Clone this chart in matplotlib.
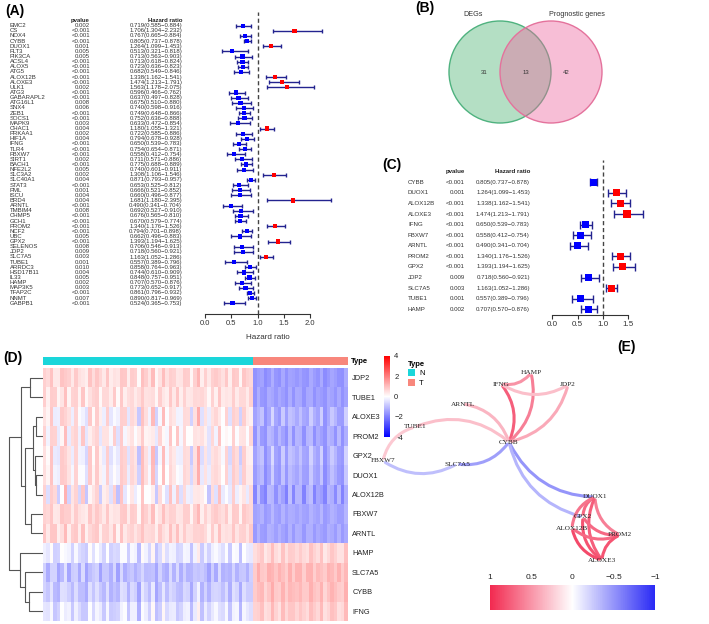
import matplotlib
matplotlib.use("Agg")
import matplotlib.pyplot as plt
import numpy as np
from matplotlib.patches import Circle, Patch, FancyArrowPatch
from matplotlib.colors import LinearSegmentedColormap, Normalize
from matplotlib.cm import ScalarMappable
from matplotlib.transforms import blended_transform_factory

plt.rcParams['font.family'] = ['Liberation Sans', 'DejaVu Sans']

# ---------------- data ----------------
# (A) univariate cox, 55 genes
genes_A = ['EMC2', 'CS', 'NOX4', 'CYBB', 'DUOX1', 'FLT3', 'PIK3CA', 'ACSL4', 'ALOX5', 'ATG5',
           'ALOX12B', 'ALOXE3', 'ULK1', 'ATG3', 'GABARAPL2', 'ATG16L1', 'SNX4', 'ZEB1', 'SOCS1', 'MAPK9',
           'CHAC1', 'PRKAA1', 'HIF1A', 'IFNG', 'TLR4', 'FBXW7', 'SIRT1', 'BACH1', 'NFE2L2', 'SLC3A2',
           'SLC40A1', 'STAT3', 'PML', 'ISCU', 'BRD4', 'ARNTL', 'TMBIM4', 'CHMP5', 'GCH1', 'PROM2',
           'NCF2', 'UBC', 'GPX2', 'SELENOS', 'JDP2', 'SLC7A5', 'TUBE1', 'ARRDC3', 'HSD17B11', 'IL33',
           'HAMP', 'MAP3K5', 'TFAP2C', 'NNMT', 'GABPB1']
pval_A = ['0.002', '<0.001', '<0.001', '<0.001', '0.001', '0.005', '0.005', '<0.001', '<0.001', '<0.001',
          '<0.001', '<0.001', '0.002', '<0.001', '<0.001', '0.008', '0.006', '<0.001', '<0.001', '0.003',
          '0.004', '0.002', '0.004', '<0.001', '<0.001', '<0.001', '0.002', '<0.001', '0.005', '0.002',
          '0.004', '<0.001', '0.001', '0.004', '0.004', '<0.001', '0.008', '<0.001', '<0.001', '<0.001',
          '<0.001', '0.005', '<0.001', '0.008', '0.009', '0.003', '0.001', '0.010', '0.004', '0.005',
          '0.002', '0.003', '<0.001', '0.007', '<0.001']
hr_A = np.array([0.719, 1.706, 0.767, 0.805, 1.264, 0.513, 0.713, 0.713, 0.723, 0.682,
                 1.338, 1.474, 1.563, 0.596, 0.637, 0.675, 0.740, 0.749, 0.752, 0.633,
                 1.180, 0.722, 0.794, 0.650, 0.754, 0.558, 0.711, 0.775, 0.740, 1.308,
                 0.871, 0.653, 0.666, 0.660, 1.681, 0.490, 0.692, 0.676, 0.670, 1.340,
                 0.794, 0.662, 1.393, 0.706, 0.718, 1.163, 0.557, 0.858, 0.744, 0.848,
                 0.707, 0.773, 0.861, 0.890, 0.524])
lo_A = np.array([0.585, 1.304, 0.665, 0.737, 1.099, 0.321, 0.563, 0.618, 0.636, 0.549,
                 1.162, 1.213, 1.178, 0.466, 0.497, 0.510, 0.598, 0.648, 0.636, 0.472,
                 1.055, 0.585, 0.678, 0.539, 0.654, 0.412, 0.571, 0.688, 0.601, 1.106,
                 0.793, 0.525, 0.521, 0.496, 1.180, 0.341, 0.527, 0.565, 0.579, 1.176,
                 0.701, 0.496, 1.194, 0.546, 0.560, 1.052, 0.389, 0.764, 0.610, 0.757,
                 0.570, 0.652, 0.796, 0.817, 0.365])
hi_A = np.array([0.884, 2.232, 0.884, 0.878, 1.453, 0.818, 0.903, 0.824, 0.823, 0.846,
                 1.541, 1.791, 2.075, 0.762, 0.828, 0.880, 0.916, 0.866, 0.888, 0.854,
                 1.321, 0.886, 0.928, 0.783, 0.871, 0.754, 0.886, 0.889, 0.911, 1.546,
                 0.957, 0.812, 0.852, 0.877, 2.395, 0.704, 0.910, 0.810, 0.774, 1.526,
                 0.898, 0.883, 1.625, 0.913, 0.921, 1.286, 0.796, 0.963, 0.909, 0.951,
                 0.876, 0.917, 0.932, 0.969, 0.753])

# (B) venn
venn_names = ['DEGs', 'Prognostic genes']
venn_counts = [31, 13, 42]   # only DEGs, both, only prognostic

# (C) 13 selected genes
genes_C = ['CYBB', 'DUOX1', 'ALOX12B', 'ALOXE3', 'IFNG', 'FBXW7', 'ARNTL', 'PROM2', 'GPX2',
           'JDP2', 'SLC7A5', 'TUBE1', 'HAMP']
pval_C = ['<0.001', '0.001', '<0.001', '<0.001', '<0.001', '<0.001', '<0.001', '<0.001', '<0.001',
          '0.009', '0.003', '0.001', '0.002']
hr_C = np.array([0.805, 1.264, 1.338, 1.474, 0.650, 0.558, 0.490, 1.340, 1.393, 0.718, 1.163, 0.557, 0.707])
lo_C = np.array([0.737, 1.099, 1.162, 1.213, 0.539, 0.412, 0.341, 1.176, 1.194, 0.560, 1.052, 0.389, 0.570])
hi_C = np.array([0.878, 1.453, 1.541, 1.791, 0.783, 0.754, 0.704, 1.526, 1.625, 0.921, 1.286, 0.796, 0.876])

# (D) heatmap: row means per group + two sample-level patterns
heat_genes = ['JDP2', 'TUBE1', 'ALOXE3', 'PROM2', 'GPX2', 'DUOX1', 'ALOX12B', 'FBXW7', 'ARNTL',
              'HAMP', 'SLC7A5', 'CYBB', 'IFNG']
mean_N = np.array([0.55, 0.5, 0.1, 0.25, 0.05, 0.15, 0.05, 0.55, 0.6, -0.45, -1.0, -0.9, -0.55])
mean_T = np.array([-1.6, -1.5, -1.3, -1.4, -1.3, -1.4, -1.5, -1.4, -1.4, 0.6, 1.0, 0.9, 0.7])
w1 = np.array([0.4, 0.35, 0.8, 0.6, 0.9, 0.8, 0.9, 0.35, 0.35, 0.5, 0.4, 0.5, 0.45])
w2 = np.array([0.3, -0.3, 0.6, -0.5, 0.6, 0.5, -0.6, 0.3, -0.3, 0.4, -0.35, 0.3, 0.5])
off1_N = [0.6, -0.3, 0.9, 0.1, -0.7, 0.4, 1.0, -0.2, 0.0, 0.7, -0.5, 0.3, -0.9, 0.5, 0.2, 0.8,
          -0.4, -0.1, 0.6, -0.6, 0.3, -0.8, 0.9, 0.1, -0.3, 0.5, 0.0, -0.6, 1.0, 0.2, -0.2, 0.7,
          -1.0, 0.2, 0.5, -0.4, 0.8, 0.0, 0.3, -0.5, 0.6, 0.1, -0.7, 0.4, 0.9, -0.2, 0.2, -0.8,
          0.5, 0.0, 0.7, -0.3, 0.3, -0.6, 0.8, 0.1, -0.4, 0.6, -0.1, 0.4]
off2_N = [-0.2, 0.5, 0.1, -0.8, 0.3, 0.7, -0.4, 0.9, -0.6, 0.0, 0.4, -0.9, 0.2, 0.6, -0.3, 0.1,
          0.8, -0.5, 0.3, 0.0, -0.7, 0.5, -0.1, 0.9, -0.4, 0.2, 0.6, -0.8, 0.1, 0.4, -0.2, 0.7,
          0.0, -0.6, 0.9, 0.3, -0.3, 0.5, -0.9, 0.2, 0.0, 0.6, -0.4, 0.1, 0.8, -0.7, 0.3, 0.4,
          -0.1, 0.9, -0.5, 0.2, 0.6, -0.2, 0.0, 0.7, -0.8, 0.3, 0.5, -0.3]
off1_T = [-0.3, 0.4, 0.1, -0.5, 0.2, 0.6, -0.2, 0.0, 0.3, -0.4, 0.5, -0.1, 0.2, 0.4, -0.3, 0.1,
          0.6, -0.2, 0.0, 0.3, -0.5, 0.2, 0.4, -0.1, 0.1, -0.4, 0.5]
off2_T = [0.2, -0.3, 0.5, 0.0, -0.4, 0.3, 0.1, -0.5, 0.4, 0.2, -0.1, 0.5, -0.3, 0.0, 0.3, -0.4,
          0.1, 0.4, -0.2, 0.5, 0.0, -0.3, 0.2, 0.4, -0.5, 0.1, 0.3]
# dendrogram merges (child a, child b, height); leaves 0..12, new nodes from 13
dendro_merges = [(0, 1, 12), (2, 3, 7), (5, 6, 7), (4, 15, 8), (14, 16, 9.5), (7, 8, 11.3),
                 (17, 18, 17), (13, 19, 21.3), (11, 12, 13), (10, 21, 17), (9, 22, 22), (20, 23, 33)]

# (E) correlation network
net_edges = [('CYBB', 'IFNG', 0.75), ('CYBB', 'HAMP', 0.6), ('CYBB', 'JDP2', 0.4), ('CYBB', 'ARNTL', 0.35),
             ('IFNG', 'HAMP', 0.5), ('IFNG', 'JDP2', 0.3), ('CYBB', 'TUBE1', 0.3), ('TUBE1', 'FBXW7', 0.25),
             ('FBXW7', 'SLC7A5', -0.3), ('SLC7A5', 'CYBB', -0.45), ('CYBB', 'DUOX1', -0.5),
             ('CYBB', 'GPX2', -0.35), ('DUOX1', 'GPX2', 0.7), ('DUOX1', 'ALOX12B', 0.65),
             ('DUOX1', 'PROM2', 0.6), ('DUOX1', 'ALOXE3', 0.75), ('GPX2', 'ALOXE3', 0.8),
             ('GPX2', 'PROM2', 0.7), ('ALOX12B', 'ALOXE3', 0.85), ('ALOX12B', 'PROM2', 0.7),
             ('PROM2', 'ALOXE3', 0.8)]

# ---------------- figure ----------------
W, H = 709, 624
fig = plt.figure(figsize=(7.09, 6.24), dpi=100)


def px_axes(x0, y0, x1, y1):
    return fig.add_axes([x0 / W, 1 - y1 / H, (x1 - x0) / W, (y1 - y0) / H])


def ftext(x, y, s, **kw):
    fig.text(x / W, 1 - y / H, s, **kw)


def forest(ax, hr, lo, hi, ticks, ms, cap, fs):
    y = np.arange(len(hr))
    cols = np.where(hr > 1, '#ff0000', '#0000ff')
    ax.errorbar(hr, y, xerr=[hr - lo, hi - hr], fmt='none', ecolor='#23238f',
                elinewidth=1, capsize=cap, capthick=1, zorder=2)
    ax.scatter(hr, y, marker='s', s=ms, c=cols, zorder=3, linewidths=0)
    ax.axvline(1, color='#444444', ls=(0, (3, 2)), lw=1, zorder=1)
    for s in ['top', 'right', 'left']:
        ax.spines[s].set_visible(False)
    ax.spines['bottom'].set_bounds(ticks[0], ticks[-1])
    ax.spines['bottom'].set_color('#333333')
    ax.set_yticks([])
    ax.set_xticks(ticks)
    ax.set_xticklabels([f'{t:.1f}' for t in ticks], fontsize=fs, color='#333333')
    ax.tick_params(axis='x', length=3, color='#333333', pad=1.5)
    ax.patch.set_visible(False)


def table(ax, genes, pvals, hr, lo, hi, xg, xp, xh, fs):
    tr = blended_transform_factory(fig.transFigure, ax.transData)
    ax.text(xp / W, -1, 'pvalue', transform=tr, ha='right', va='center', fontsize=fs, fontweight='bold', color='#222222')
    ax.text(xh / W, -1, 'Hazard ratio', transform=tr, ha='right', va='center', fontsize=fs, fontweight='bold', color='#222222')
    for i, g in enumerate(genes):
        ax.text(xg / W, i, g, transform=tr, ha='left', va='center', fontsize=fs, color='#333333')
        ax.text(xp / W, i, pvals[i], transform=tr, ha='right', va='center', fontsize=fs, color='#333333')
        ax.text(xh / W, i, f'{hr[i]:.3f}({lo[i]:.3f}\u2212{hi[i]:.3f})', transform=tr,
                ha='right', va='center', fontsize=fs, color='#333333')


# ---- (A)
axA = px_axes(196, 12, 340, 314)
forest(axA, hr_A, lo_A, hi_A, [0.0, 0.5, 1.0, 1.5, 2.0], 9, 1.6, 5.5)
axA.set_xlim((196 - 205) / 52.5, (340 - 205) / 52.5)
axA.set_ylim((314 - 25.7) / 5.14, (12 - 25.7) / 5.14)
axA.set_xlabel('Hazard ratio', fontsize=5.8, color='#333333', labelpad=5)
table(axA, genes_A, pval_A, hr_A, lo_A, hi_A, 10, 90, 182, 4.3)
ftext(5, 11, '(A)', fontsize=10, fontweight='bold', va='center')

# ---- (B)
axB = px_axes(360, 0, 709, 150)
axB.set_xlim(360, 709)
axB.set_ylim(150, 0)
axB.set_aspect('equal')
axB.axis('off')
axB.add_patch(Circle((500, 72), 51, facecolor=(0.30, 0.70, 0.45, 0.42), edgecolor='#4fb27f', lw=1))
axB.add_patch(Circle((551, 72), 51, facecolor=(0.93, 0.40, 0.62, 0.42), edgecolor='#e4729c', lw=1))
axB.text(473, 15, venn_names[0], ha='center', va='center', fontsize=5.2, color='#333333')
axB.text(577, 15, venn_names[1], ha='center', va='center', fontsize=5.2, color='#333333')
for xv, c in zip([484, 526, 566], venn_counts):
    axB.text(xv, 73, str(c), ha='center', va='center', fontsize=4.3, color='#333333')
ftext(415, 8, '(B)', fontsize=10, fontweight='bold', va='center')

# ---- (C)
axC = px_axes(540, 160, 665, 315)
forest(axC, hr_C, lo_C, hi_C, [0.0, 0.5, 1.0, 1.5], 26, 2.8, 5.8)
axC.set_xlim((540 - 552.3) / 50.67, (665 - 552.3) / 50.67)
axC.set_ylim((315 - 182.3) / 10.58, (160 - 182.3) / 10.58)
table(axC, genes_C, pval_C, hr_C, lo_C, hi_C, 408, 465, 530, 4.4)
ftext(382, 165, '(C)', fontsize=10, fontweight='bold', va='center')

# ---- (D)
heat_cmap = LinearSegmentedColormap.from_list('bwr2', ['#0000ff', '#ffffff', '#ff0000'])
matN = mean_N[:, None] + np.outer(w1, off1_N) + np.outer(w2, off2_N)
matT = mean_T[:, None] + np.outer(w1, off1_T) + np.outer(w2, off2_T)
nrow = len(heat_genes)
axD = px_axes(43, 368, 348, 621)
axD.imshow(matN, cmap=heat_cmap, vmin=-4, vmax=4, aspect='auto', interpolation='nearest',
           extent=[0, 210, nrow, 0])
axD.imshow(matT, cmap=heat_cmap, vmin=-4, vmax=4, aspect='auto', interpolation='nearest',
           extent=[210, 305, nrow, 0])
axD.set_xlim(0, 305)
axD.set_ylim(nrow, 0)
axD.set_xticks([])
axD.yaxis.tick_right()
axD.set_yticks(np.arange(nrow) + 0.5)
axD.set_yticklabels(heat_genes, fontsize=5.3, color='#222222')
axD.tick_params(axis='y', length=0, pad=3)
for s in axD.spines.values():
    s.set_visible(False)

axAnn = px_axes(43, 357, 348, 365)
axAnn.barh(0, 210, left=0, height=1, color='#1ad6da')
axAnn.barh(0, 95, left=210, height=1, color='#f8877c')
axAnn.set_xlim(0, 305)
axAnn.set_ylim(-0.5, 0.5)
axAnn.axis('off')
ftext(351, 361, 'Type', fontsize=5.5, fontweight='bold', va='center')

axDen = px_axes(8, 368, 43, 621)
pos = {i: (0.0, i + 0.5) for i in range(nrow)}
for k, (a, b, h) in enumerate(dendro_merges):
    ha_, ya = pos[a]
    hb, yb = pos[b]
    axDen.plot([ha_, h, h, hb], [ya, ya, yb, yb], color='#555555', lw=0.8)
    pos[nrow + k] = (h, (ya + yb) / 2)
axDen.set_xlim(33.5, 0)
axDen.set_ylim(nrow, 0)
axDen.axis('off')

cax = px_axes(384, 356, 390, 437)
cb = fig.colorbar(ScalarMappable(Normalize(-4, 4), heat_cmap), cax=cax, ticks=[-4, -2, 0, 2, 4])
cb.outline.set_visible(False)
cb.ax.set_yticklabels(['\u22124', '\u22122', '0', '2', '4'])
cb.ax.tick_params(length=0, labelsize=5.5, pad=3, colors='#222222')
fig.legend(handles=[Patch(facecolor='#1ad6da', label='N'), Patch(facecolor='#f8877c', label='T')],
           loc='upper left', bbox_to_anchor=(404 / W, 1 - 357 / H), frameon=False, fontsize=5.5,
           title='Type', title_fontproperties={'weight': 'bold', 'size': 5.5}, alignment='left',
           handlelength=1.0, handleheight=1.0, handletextpad=0.5, labelspacing=0.2, borderpad=0)
ftext(3, 358, '(D)', fontsize=10, fontweight='bold', va='center')

# ---- (E)
node_pos = {'HAMP': (531, 373), 'JDP2': (568, 385), 'IFNG': (501, 384), 'ARNTL': (463, 404),
            'TUBE1': (415, 427), 'FBXW7': (383, 461), 'SLC7A5': (457, 464), 'CYBB': (509, 442),
            'DUOX1': (595, 497), 'GPX2': (583, 517), 'ALOX12B': (572, 528), 'PROM2': (620, 535),
            'ALOXE3': (602, 560)}
corr_cmap = LinearSegmentedColormap.from_list('corr', ['#2a2af5', '#ffffff', '#f22a50'])
corr_norm = Normalize(-1, 1)
axE = px_axes(360, 330, 709, 624)
axE.set_xlim(360, 709)
axE.set_ylim(624, 330)
axE.axis('off')
for a, b, r in net_edges:
    p = FancyArrowPatch(node_pos[a], node_pos[b], connectionstyle='arc3,rad=0.3', arrowstyle='-',
                        color=corr_cmap(corr_norm(r)), lw=2.2, zorder=1)
    axE.add_patch(p)
for g, (xn, yn) in node_pos.items():
    axE.text(xn, yn, g, ha='center', va='center', fontsize=5.2, family=['Liberation Serif', 'DejaVu Serif'],
             color='#222222', zorder=3)
caxE = px_axes(490, 585, 655, 610)
cbE = fig.colorbar(ScalarMappable(corr_norm, corr_cmap), cax=caxE, orientation='horizontal',
                   ticks=[-1, -0.5, 0, 0.5, 1])
cbE.outline.set_visible(False)
caxE.invert_xaxis()
caxE.xaxis.set_ticks_position('top')
cbE.ax.set_xticklabels(['\u22121', '\u22120.5', '0', '0.5', '1'])
caxE.tick_params(length=0, labelsize=6, pad=3, colors='#222222')
ftext(617, 347, '(E)', fontsize=10, fontweight='bold', va='center')

fig.savefig('out.png', dpi=100)
